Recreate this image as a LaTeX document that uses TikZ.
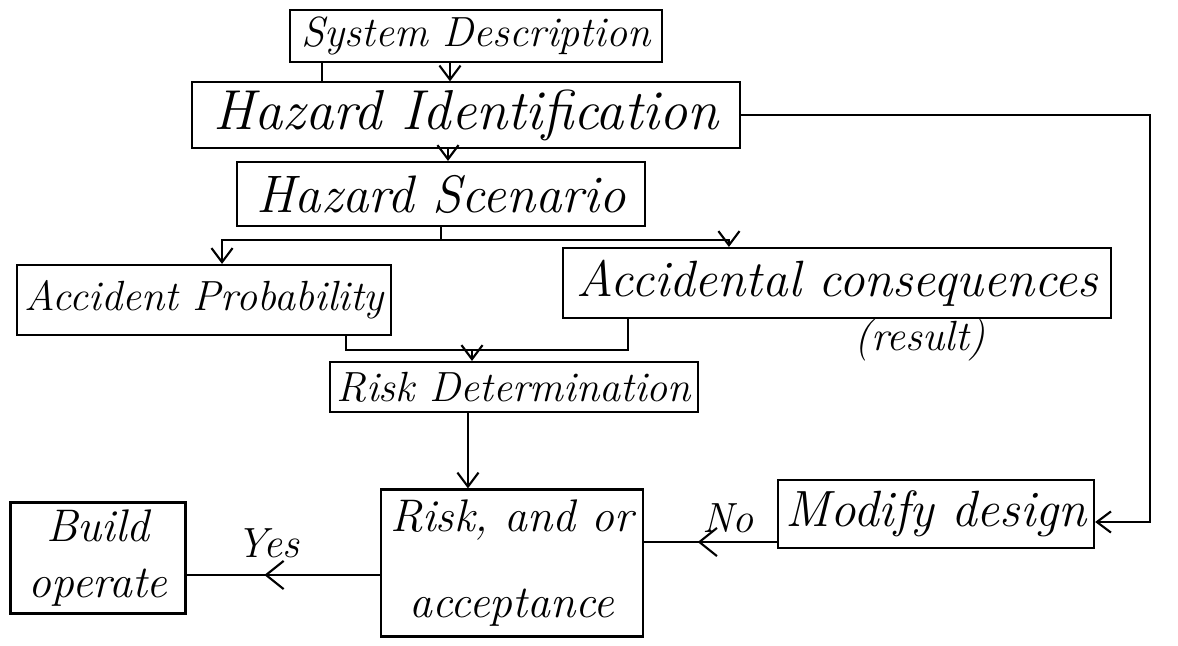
\documentclass[tikz,border=0pt]{standalone}
\usepackage{tikz}
\usetikzlibrary{arrows.meta, decorations.markings}
\tikzstyle{box} = [draw, line width=0.6pt, inner sep=2pt, align=center, font=\fontsize{12}{15}\selectfont\itshape]
\tikzstyle{label} = [inner sep=1pt, font=\fontsize{12}{14}\selectfont\itshape]
\tikzstyle{line} = [line width=0.6pt]
\tikzstyle{arrow} = [line width=0.6pt, -{Straight Barb[length=4pt, width=6pt]}]
\tikzstyle{midarrow} = [line width=0.6pt, decoration={markings, mark=at position 0.6 with {\arrow{Straight Barb[length=5pt, width=8pt]}}}, postaction={decorate}]

\begin{document}
\begin{tikzpicture}[x=0.01cm, y=-0.01cm]
	\useasboundingbox (0,0) rectangle (1178,645);
	% boxes
	\node[box, minimum width=3.72cm, minimum height=0.48cm] (sys) at (476,36) {System Description};
	\node[box, minimum width=5.48cm, minimum height=0.50cm, font=\fontsize{16}{19}\selectfont\itshape] (hazid) at (466,115) {Hazard Identification};
	\node[box, minimum width=4.08cm, minimum height=0.64cm, font=\fontsize{15}{18}\selectfont\itshape] (scen) at (441,194) {Hazard Scenario};
	\node[box, minimum width=3.70cm, minimum height=0.70cm] (prob) at (204,300) {Accident Probability};
	\node[box, minimum width=5.47cm, minimum height=0.70cm, font=\fontsize{14.5}{17}\selectfont\itshape] (cons) at (837,283) {Accidental consequences};
	\node[label] (result) at (920,340) {(result)};
	\node[box, minimum width=3.67cm, minimum height=0.50cm] (riskdet) at (514,387) {Risk Determination};
	\node[box, minimum width=2.62cm, minimum height=1.47cm, font=\fontsize{13}{16}\selectfont\itshape] (accept) at (512,563) {Risk, and or\\[0.3cm]acceptance};
	\node[box, minimum width=3.16cm, minimum height=0.68cm, font=\fontsize{14.5}{17}\selectfont\itshape] (modify) at (936,514) {Modify design};
	\node[box, minimum width=1.75cm, minimum height=1.07cm, font=\fontsize{13}{16}\selectfont\itshape] (build) at (98,558) {Build\\operate};
	% connectors
	\draw[line] ([xshift=-1.54cm]sys.south) -- ([xshift=-1.54cm]sys.south |- hazid.north);
	\draw[arrow] ([xshift=-0.26cm]sys.south) -- ([xshift=-0.26cm]sys.south |- hazid.north);
	\draw[arrow] ([xshift=-0.18cm]hazid.south) -- ([xshift=-0.18cm]hazid.south |- scen.north);
	\coordinate (split) at (441,240);
	\draw[line] (scen.south) -- (split);
	\draw[arrow] (split) -| ([xshift=0.18cm]prob.north);
	\draw[arrow] (split) -| ([xshift=-1.08cm]cons.north);
	\coordinate (join) at (472,350);
	\draw[line] ([xshift=1.42cm]prob.south) |- (join) -| ([xshift=-2.09cm]cons.south);
	\draw[arrow] (join) -- (join |- riskdet.north);
	\draw[arrow] ([xshift=-0.44cm]accept.north |- riskdet.south) -- ([xshift=-0.44cm]accept.north);
	\coordinate (loop) at (1150,522);
	\draw[arrow] (hazid.east) -| (loop) -- (loop -| modify.east);
	\coordinate (no) at (778,542);
	\draw[midarrow] (no) -- (no -| accept.east);
	\node[label] (nolabel) at (728,518) {No};
	\coordinate (yes) at (381,575);
	\draw[midarrow] (yes) -- (yes -| build.east);
	\node[label] (yeslabel) at (268,543) {Yes};
\end{tikzpicture}
\end{document}
